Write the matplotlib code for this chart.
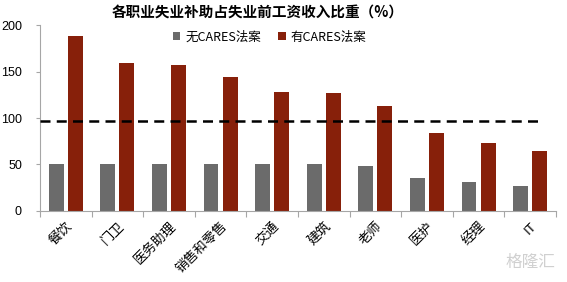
import numpy as np
import matplotlib
matplotlib.use("Agg")
import matplotlib.pyplot as plt

plt.rcParams['font.family'] = ['Noto Sans CJK SC', 'DejaVu Sans']

categories = ["餐饮", "门卫", "医务助理", "销售和零售", "交通", "建筑", "老师", "医护", "经理", "IT"]
without_cares = [50, 50, 50, 50, 50, 50, 48, 35, 31, 27]
with_cares = [188, 159, 157, 144, 128, 127, 113, 84, 73, 64]
ref_level = 97

GRAY = "#6b6b6b"
RED = "#87200a"
AXIS = "#a6a6a6"


def main():
    fig = plt.figure(figsize=(5.67, 2.82), dpi=100)
    ax = fig.add_axes([0.0705, 0.252, 0.91, 0.659])

    x = np.arange(len(categories))
    w = 0.29
    ax.bar(x - 0.185, without_cares, w, color=GRAY, label="无CARES法案", zorder=2)
    ax.bar(x + 0.185, with_cares, w, color=RED, label="有CARES法案", zorder=2)
    ax.plot([-0.5, 9.2], [ref_level, ref_level], color="black", lw=1.8,
            ls=(0, (4, 2.5)), zorder=3)

    ax.set_xlim(-0.5, 9.5)
    ax.set_ylim(0, 200)
    ax.set_yticks([0, 50, 100, 150, 200])
    ax.tick_params(axis="y", labelsize=9, length=3, color=AXIS, pad=10)
    for lab in ax.get_yticklabels():
        lab.set_family(["Liberation Sans", "DejaVu Sans"])

    # ticks at category boundaries, labels at category centers
    ax.set_xticks(np.arange(-0.5, 10, 1.0))
    ax.set_xticklabels([])
    ax.tick_params(axis="x", which="major", length=4, color=AXIS, direction="out")
    ax.set_xticks(x, minor=True)
    ax.set_xticklabels(categories, minor=True, rotation=45, ha="right",
                       rotation_mode="anchor", fontsize=9.5)
    ax.tick_params(axis="x", which="minor", length=0, pad=6)

    for s in ["top", "right"]:
        ax.spines[s].set_visible(False)
    ax.spines["left"].set_color(AXIS)
    ax.spines["bottom"].set_color(AXIS)

    ax.legend(loc="upper center", bbox_to_anchor=(0.445, 1.03), ncol=2,
              frameon=False, fontsize=9, handlelength=0.6, handleheight=0.6,
              handletextpad=0.4, columnspacing=1.4)

    fig.text(0.455, 0.955, "各职业失业补助占失业前工资收入比重（%）", ha="center",
             va="center", fontsize=10.5, fontweight="bold")
    fig.text(0.935, 0.07, "格隆汇", ha="center", va="center", fontsize=12,
             color="#d0d0d0")

    fig.savefig("out.png", dpi=100)


if __name__ == "__main__":
    main()
